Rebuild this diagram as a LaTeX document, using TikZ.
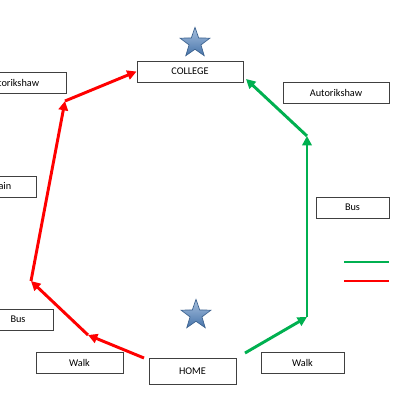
\documentclass[tikz,border=0pt]{standalone}
\usepackage{fontspec}
\setmainfont{Carlito}
\usepackage{xcolor}
\usetikzlibrary{arrows.meta,shapes.geometric}
\definecolor{routered}{HTML}{FF0000}
\definecolor{routegreen}{HTML}{00B050}
\definecolor{starblue}{HTML}{4F81BD}
\definecolor{boxline}{HTML}{404040}
\begin{document}
\begin{tikzpicture}[x=.75pt,y=-.75pt,
  place/.style={draw=boxline,line width=.7pt,fill=white,minimum height=15.75pt,inner sep=0pt,font=\fontsize{7.7}{9}\selectfont},
  route/.style={line width=2.2pt,-{Triangle[length=7pt,width=7pt]}},
  markstar/.style={star,star points=5,star point ratio=2.5,minimum size=23.5pt,inner sep=0pt,draw=starblue!75!black,line width=.5pt,top color=starblue!50!white,bottom color=starblue!90!black}]
\useasboundingbox (0,0) rectangle (400,400);\clip (0,0) rectangle (400,400);
\node[place,minimum width=79.5pt] (college) at (190,71.5) {COLLEGE};
\node[place,minimum width=79.5pt] (autoL) at (13,82.5) {Autorikshaw};
\node[place,minimum width=52.5pt] (trainL) at (1,186.5) {Train};
\node[place,minimum width=52.5pt] (busL) at (18,319.5) {Bus};
\node[place,minimum width=65.25pt] (walkL) at (79.5,363) {Walk};
\node[place,minimum width=65.25pt,minimum height=19.5pt] (home) at (192.5,371) {HOME};
\node[place,minimum width=62.25pt] (walkR) at (302.5,363) {Walk};
\node[place,minimum width=54.75pt] (busR) at (352.5,207.5) {Bus};
\node[place,minimum width=79.5pt] (autoR) at (336,93) {Autorikshaw};
\node[markstar] (starTop) at (195,43) {};\node[markstar] (starBot) at (196,315) {};
\coordinate (rs) at (144,358);\coordinate (r1) at (88,335);\coordinate (r2) at (31,281);\coordinate (r3) at (65,101);
\coordinate (gs) at (245,353);\coordinate (g1) at (307,317);\coordinate (g2) at (307,136);\coordinate (ge) at (246,79);
\draw[route,routered] (rs)--(r1);\draw[route,routered] (r1)--(r2);\draw[route,routered] (r2)--(r3);\draw[route,routered] (r3)--(college.west);
\draw[route,routegreen] (gs)--(g1);\draw[route,routegreen] (g1)--(g2);\draw[route,routegreen] (g2)--(ge);
\coordinate (lg1) at (344,262);\coordinate (lg2) at (389,262);\coordinate (lr1) at (344,281);\coordinate (lr2) at (389,281);
\draw[routegreen,line width=2.2pt] (lg1)--(lg2);\draw[routered,line width=2.2pt] (lr1)--(lr2);
\end{tikzpicture}
\end{document}
